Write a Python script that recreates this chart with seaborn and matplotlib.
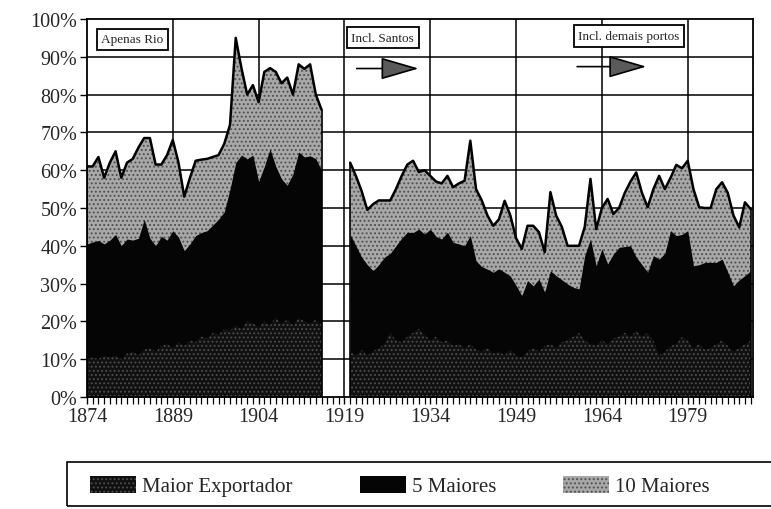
#!/usr/bin/env python3

import pandas as pd
import seaborn as sns
import matplotlib.pyplot as plt
from matplotlib.patches import Patch, Rectangle

# anos com dados (lacuna 1916-1919)
anos = list(range(1874, 1916)) + list(range(1920, 1991))

# participação acumulada nas exportações (%)
maior_exportador = [
    10, 10.5, 10, 11, 10.5, 11, 10, 11.5, 12, 11,
    12.5, 13, 12, 13.5, 14, 13, 14.5, 13.5, 15, 14.5,
    16, 15.5, 17, 16.5, 18, 17.5, 19, 18, 20, 19.5,
    18.5, 20, 19, 21, 19.5, 20.5, 19, 21, 20, 19.5,
    20.5, 19,
    12, 11, 12.5, 11, 12, 13, 14, 17, 15, 14.5,
    16, 17, 18, 16.5, 15, 16, 14.5, 15, 13.5, 14,
    13, 14, 12.5, 12, 13, 11.5, 12, 11, 12.5, 11,
    10.5, 12, 13, 12, 13.5, 14, 13, 14.5, 15, 16,
    17, 15, 14, 13.5, 15, 14, 15.5, 16, 17, 16,
    17.5, 16, 17, 15, 11, 12, 13.5, 14, 16, 15,
    13, 14, 12.5, 13, 14, 15, 13.5, 12, 13, 14,
    15,
]
cinco_maiores = [
    40.5, 41, 41.4, 40.5, 41.5, 43, 40, 41.8, 41.5, 42,
    47, 42, 40, 42.5, 41.5, 44, 42.3, 38.7, 40.5, 42.7,
    43.5, 44, 45.5, 47, 49, 55, 62, 64, 63, 64,
    57, 61, 65.6, 61, 57.7, 56, 59, 64.8, 63.5, 63.8,
    63, 60,
    43, 40, 37, 35, 33.4, 35, 37, 38, 40, 42,
    43.6, 43.5, 44.4, 43.1, 44.4, 42.5, 41.8, 43.6, 40.9, 40.5,
    40, 42.7, 36, 34.5, 33.8, 33, 33.9, 33, 32, 29.5,
    26.8, 30.8, 29.4, 31.2, 27.7, 33.4, 32.1, 31, 29.9, 29,
    28.6, 37.4, 41.8, 34.7, 39.2, 35.2, 37.8, 39.6, 39.8, 40,
    37, 35, 33, 37.4, 36.5, 38, 44, 42.7, 43, 44,
    34.7, 35, 35.6, 35.6, 35.6, 36.5, 33, 29.4, 31, 32.1,
    33.4,
]
dez_maiores = [
    61, 61, 63.5, 58, 62, 65, 58, 62, 63, 66,
    68.5, 68.5, 61.5, 61.5, 64, 68, 62, 53, 58, 62.5,
    62.8, 63, 63.5, 64, 67, 72, 95, 87, 80, 82.5,
    78, 86, 87, 86, 83, 84.5, 80, 88, 86.8, 88,
    80, 76,
    62, 58.5, 54.5, 49.5, 51, 52, 52, 52, 55, 58.5,
    61.5, 62.5, 59.5, 60, 58.5, 57, 56.5, 58.5, 55.5, 56.5,
    57.2, 67.8, 55, 52, 48, 45.3, 47, 51.9, 48, 42,
    39.2, 45.3, 45.3, 43.6, 38.3, 54.2, 48, 45, 40, 40,
    40, 45, 57.7, 44.4, 50, 52.4, 48.4, 50, 54, 57,
    59.4, 54, 50.2, 55, 58.5, 55, 58, 61.4, 60.5, 62.5,
    55, 50.2, 50, 50, 55, 56.8, 54, 48, 44.9, 51.5,
    49.7,
]

series = ["Maior Exportador", "5 Maiores", "10 Maiores"]
anos_ticks = [1874, 1889, 1904, 1919, 1934, 1949, 1964, 1979]
pct_ticks = list(range(0, 101, 10))

sns.set_theme(style="white")
plt.rcParams["font.family"] = ["Liberation Serif", "DejaVu Serif"]
plt.rcParams["hatch.linewidth"] = 0.9

df = pd.DataFrame({
    "ano": anos,
    "Maior Exportador": maior_exportador,
    "5 Maiores": cinco_maiores,
    "10 Maiores": dez_maiores,
})
df["trecho"] = (df["ano"].diff() > 1).cumsum()

estilos = {
    "10 Maiores": dict(facecolor="#a8a8a8", edgecolor="#505050", hatch="...."),
    "5 Maiores": dict(facecolor="#050505", edgecolor="#050505", hatch=None),
    "Maior Exportador": dict(facecolor="#101010", edgecolor="#4c4c4c", hatch="...."),
}

fig = plt.figure(figsize=(7.71, 5.10), dpi=100)
ax = fig.add_axes([0.1128, 0.2196, 0.8638, 0.7412])

for _, g in df.groupby("trecho"):
    for nome in ["10 Maiores", "5 Maiores", "Maior Exportador"]:
        with plt.rc_context({"hatch.color": estilos[nome]["edgecolor"]}):
            ax.fill_between(g["ano"], 0, g[nome], linewidth=0, zorder=2,
                            **estilos[nome])
    sns.lineplot(data=g, x="ano", y="10 Maiores", color="black",
                 linewidth=1.8, ax=ax, zorder=3)
    # bordas verticais de cada trecho
    for a in [g["ano"].iloc[0], g["ano"].iloc[-1]]:
        v = g.loc[g["ano"] == a, "10 Maiores"].iloc[0]
        ax.plot([a, a], [0, v], color="black", linewidth=1.2, zorder=3)

ax.set_xlim(1874, 1990.4)
ax.set_ylim(0, 100)
ax.set_xticks(anos_ticks)
ax.set_xticks(range(1874, 1991), minor=True)
ax.set_yticks(pct_ticks)
ax.set_yticklabels([f"{p}%" for p in pct_ticks])
ax.set_xlabel("")
ax.set_ylabel("")

for x in anos_ticks[1:]:
    ax.axvline(x, color="black", linewidth=1.1, zorder=1)
for y in pct_ticks[1:-1]:
    ax.axhline(y, color="black", linewidth=1.1, zorder=1)

for s in ax.spines.values():
    s.set_color("black")
    s.set_linewidth(1.3)
    s.set_zorder(4)

ax.tick_params(axis="both", which="major", direction="out", length=5,
               width=1, color="black", labelsize=14.5, pad=2,
               bottom=True, left=True)
ax.tick_params(axis="x", which="minor", direction="out", length=5,
               width=0.9, color="black", bottom=True)

caixa = dict(boxstyle="square,pad=0.35", facecolor="white",
             edgecolor="black", linewidth=1.3)
ax.text(0.068, 0.946, "Apenas Rio", transform=ax.transAxes, fontsize=9.5,
        ha="center", va="center", bbox=caixa, zorder=5)
ax.text(0.444, 0.951, "Incl. Santos", transform=ax.transAxes, fontsize=9.5,
        ha="center", va="center", bbox=caixa, zorder=5)
ax.text(0.814, 0.955, "Incl. demais portos", transform=ax.transAxes,
        fontsize=9.5, ha="center", va="center", bbox=caixa, zorder=5)

seta = dict(arrowstyle="-|>,head_length=1.2,head_width=0.35",
            mutation_scale=20, facecolor="#5a5a5a", edgecolor="black",
            linewidth=1.2, shrinkA=0, shrinkB=0)
ax.annotate("", xy=(0.498, 0.869), xytext=(0.405, 0.869),
            xycoords="axes fraction", arrowprops=seta, zorder=5)
ax.annotate("", xy=(0.840, 0.874), xytext=(0.736, 0.874),
            xycoords="axes fraction", arrowprops=seta, zorder=5)

handles = []
for nome in series:
    with plt.rc_context({"hatch.color": estilos[nome]["edgecolor"]}):
        handles.append(Patch(linewidth=0, **estilos[nome]))
fig.legend(handles, series, loc="center left",
           bbox_to_anchor=(80 / 771, 1 - 487 / 510), ncol=3, frameon=False,
           fontsize=15, handlelength=2.2, handleheight=0.9,
           handletextpad=0.3, columnspacing=3.2, borderpad=0)
fig.patches.append(Rectangle((67 / 771, 1 - 507 / 510), 1.0, 44 / 510,
                             transform=fig.transFigure, fill=False,
                             edgecolor="black", linewidth=1.2))

fig.savefig("out.png", dpi=100)
